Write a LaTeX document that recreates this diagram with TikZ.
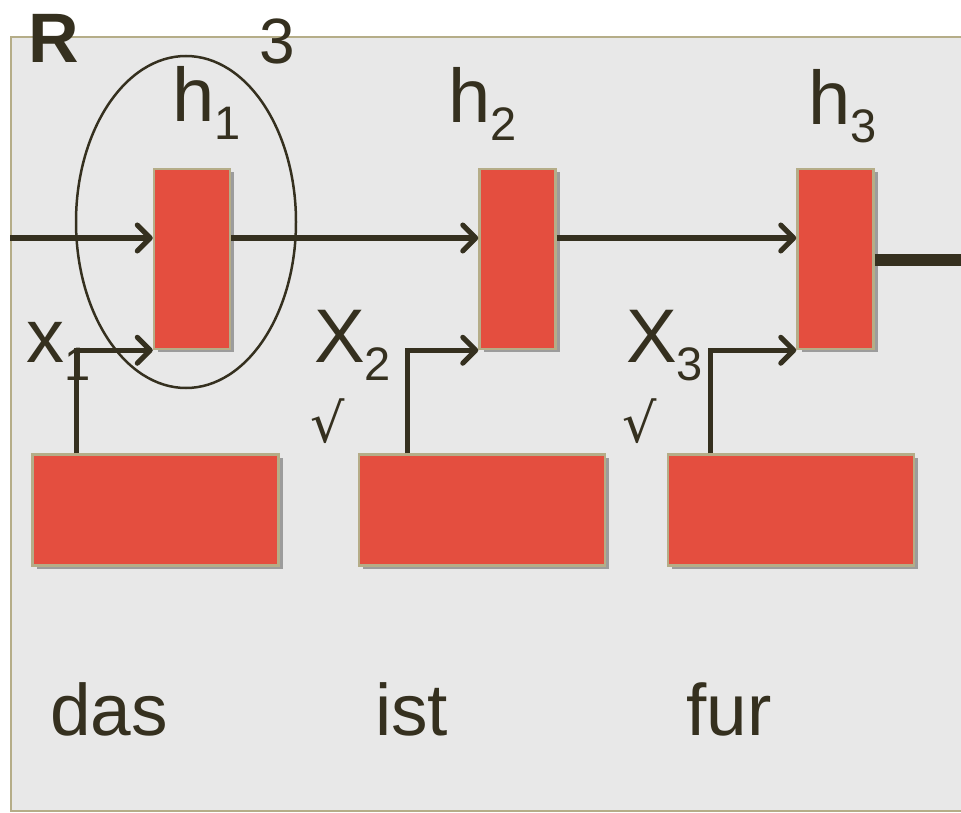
\documentclass[tikz,border=0pt]{standalone}
\usepackage{fontspec}
\setmainfont{Liberation Sans}
\newfontfamily\symfont{DejaVu Serif}
\usetikzlibrary{arrows.meta,shadows,calc,shapes.geometric}
\definecolor{boxred}{HTML}{E44E3F}
\definecolor{boxtan}{HTML}{B5AD88}
\definecolor{ink}{HTML}{35301F}
\definecolor{panel}{HTML}{E8E8E8}
\tikzset{
  cell/.style={draw=boxtan, line width=2.5pt, fill=boxred, minimum width=76pt, minimum height=180pt, inner sep=0pt,
    drop shadow={shadow xshift=4pt, shadow yshift=-3pt, opacity=0.45, fill=black!75}},
  embed/.style={cell, minimum width=246pt, minimum height=111pt},
  arr/.style={draw=ink, line width=5pt, -{Straight Barb[length=13pt,width=26pt,line cap=round,line join=round]}},
  lbl/.style={anchor=base west, inner sep=0pt, text=ink, font=\fontsize{76}{76}\selectfont},
  word/.style={anchor=base west, inner sep=0pt, text=ink, font=\fontsize{73}{73}\selectfont},
  chk/.style={anchor=center, inner sep=0pt, text=ink, font=\symfont\fontsize{54}{54}\selectfont},
}
\newcommand{\sbx}[1]{\raisebox{-18pt}{\fontsize{47}{47}\selectfont #1}}
\begin{document}
\begin{tikzpicture}[x=1pt,y=-1pt]
\useasboundingbox (0,0) rectangle (961,813);
\fill[white] (0,0) rectangle (961,813);
% panel
\fill[panel] (11,37) rectangle (975,811);
\draw[boxtan, line width=2.5pt] (975,37) -- (11,37) -- (11,811) -- (975,811);

% cells
\node[cell] (h1box) at (192,259) {};
\node[cell] (h2box) at (517.5,259) {};
\node[cell] (h3box) at (835.5,259) {};
\node[embed] (e1) at (155.5,510) {};
\node[embed] (e2) at (482,510) {};
\node[embed] (e3) at (791,510) {};

% ellipse around h1
\node[draw=ink, line width=2.5pt, ellipse, minimum width=220pt, minimum height=332pt, inner sep=0pt] (ell) at (186,222) {};

% recurrent connectors
\coordinate (in) at (10,238);
\coordinate (out) at (961,260);
\draw[arr] (in) -- (in -| h1box.west);
\draw[arr] (h1box.east |- in) -- (h2box.west |- in);
\draw[arr] (h2box.east |- in) -- (h3box.west |- in);
\draw[draw=ink, line width=12pt] (h3box.east |- out) -- (out);

% input connectors
\draw[arr] ([xshift=45pt]e1.north west) |- (h1box.south west);
\draw[arr] ([xshift=50pt]e2.north west) |- (h2box.south west);
\draw[arr] ([xshift=44pt]e3.north west) |- (h3box.south west);

% labels
\node[anchor=base west, inner sep=0pt, text=ink, font=\bfseries\fontsize{70}{70}\selectfont] (R) at (28,63) {R};
\node[anchor=base west, inner sep=0pt, text=ink, font=\fontsize{64}{64}\selectfont] (three) at (259,64) {3};
\node[lbl] (lh1) at (172,122) {h\sbx{1}};
\node[lbl] (lh2) at (448,123) {h\sbx{2}};
\node[lbl] (lh3) at (808,125) {h\sbx{3}};
\node[lbl] (lx1) at (26,362) {x\sbx{1}};
\node[lbl] (lx2) at (314,362) {X\sbx{2}};
\node[lbl] (lx3) at (626,362) {X\sbx{3}};
\node[chk] (c2) at (328,421) {√};
\node[chk] (c3) at (640,421) {√};
\node[word] (w1) at (50,735) {das};
\node[word] (w2) at (375,735) {ist};
\node[word] (w3) at (686,735) {fur};
\end{tikzpicture}
\end{document}
